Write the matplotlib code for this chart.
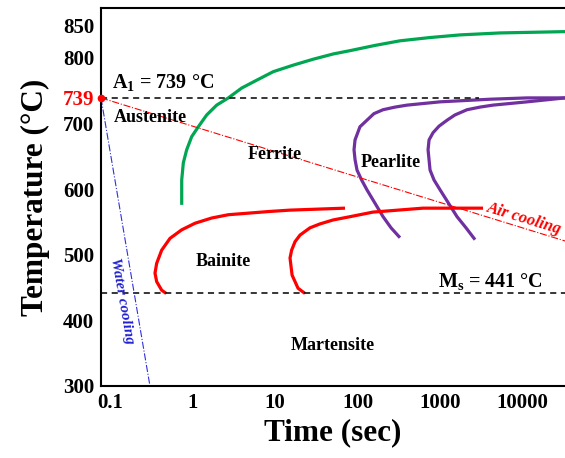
import matplotlib
matplotlib.use("Agg")
import matplotlib.pyplot as plt

plt.rcParams['font.family'] = ['Liberation Serif', 'DejaVu Serif']
plt.rcParams['font.weight'] = 'bold'
plt.rcParams['mathtext.default'] = 'regular'

# ---- data ----
ferrite_t = [0.740, 0.740, 0.774, 0.850, 0.978, 1.176, 1.486, 1.963, 2.72, 3.94, 6.0, 9.53,
             16.7, 29.1, 50.9, 81.1, 163, 327, 757, 1747, 5333, 32700]
ferrite_T = [576, 614, 640, 660, 680, 695, 713, 728, 739, 754, 766, 779,
             789, 798, 806, 811, 819, 826, 831, 835, 838, 840]

pearl1_t = [327, 255, 204, 130, 112, 98.6, 93.3, 90.7, 93.3, 107, 130, 158, 204, 285, 398, 1000, 4036, 11350, 32700]
pearl1_T = [526, 541, 558, 599, 614, 629, 645, 660, 675, 695, 705, 715, 721, 725, 728, 733, 737, 739, 739]

pearl2_t = [2655, 2066, 1607, 1000, 845, 757, 716, 736, 823, 973, 1216, 1514, 2124, 3055, 4385, 11350, 32700]
pearl2_T = [523, 541, 558, 599, 614, 629, 660, 675, 686, 696, 705, 713, 721, 725, 728, 733, 739]

bain1_t = [70.5, 15.2, 8.69, 4.33, 2.72, 1.71, 1.072, 0.740, 0.534, 0.423, 0.368, 0.351, 0.368, 0.423, 0.48]
bain1_T = [571, 568, 566, 563, 561, 556, 548, 538, 525, 507, 487, 472, 459, 446, 441]

bain2_t = [3320, 622, 154, 81, 50.5, 35.1, 26.5, 20.1, 17.5, 15.9, 15.2, 16.1, 19.0, 23.1]
bain2_T = [571, 571, 565, 558, 553, 547, 541, 530, 520, 507, 495, 469, 449, 441]

air_t = [0.0778, 32700]
air_T = [739, 521]
water_t = [0.0778, 0.305]
water_T = [739, 300]

A1 = 739
Ms = 441
x_ticks = [0.1, 1, 10, 100, 1000, 10000]
x_labels = ['0.1', '1', '10', '100', '1000', '10000']
y_ticks = [300, 400, 500, 600, 700, 739, 800, 850]
y_labels = ['300', '400', '500', '600', '700', '739', '800', '850']

# ---- figure ----
fig = plt.figure(figsize=(5.65, 4.58), dpi=100)
ax = fig.add_axes([101/565, 1-386/458, 1-101/565, (386-8)/458])
ax.set_xscale('log')
ax.set_xlim(0.0778, 32700)
ax.set_ylim(300, 876)

green = '#00a651'
red = '#ff0000'
purple = '#7030a0'
lw = 2.3

for t, T, c in [(ferrite_t, ferrite_T, green), (pearl1_t, pearl1_T, purple),
                (pearl2_t, pearl2_T, purple), (bain1_t, bain1_T, red),
                (bain2_t, bain2_T, red)]:
    ax.plot(t, T, color=c, lw=lw, solid_capstyle='butt', solid_joinstyle='round')

ax.plot([0.0778, 3000], [A1, A1], color='black', lw=1.1, ls=(0, (4, 3)))
ax.plot([0.0778, 32700], [Ms, Ms], color='black', lw=1.1, ls=(0, (4, 3)))

ax.plot(air_t, air_T, color=red, lw=0.8, ls='-.')
ax.plot(water_t, water_T, color='#3030e0', lw=0.8, ls='-.')
ax.plot([0.0778], [A1], 'o', color=red, ms=4.5, clip_on=False, zorder=5)

fs = 13
ax.text(0.438, 762, 'A$_1$ = 739 °C', fontsize=14.5, ha='center', va='center')
ax.text(0.305, 708.5, 'Austenite', fontsize=fs, ha='center', va='center')
ax.text(10, 652, 'Ferrite', fontsize=fs, ha='center', va='center')
ax.text(255, 640, 'Pearlite', fontsize=fs, ha='center', va='center')
ax.text(2.35, 489, 'Bainite', fontsize=fs, ha='center', va='center')
ax.text(4036, 458.5, 'M$_s$ = 441 °C', fontsize=14.5, ha='center', va='center')
ax.text(50.5, 361, 'Martensite', fontsize=fs, ha='center', va='center')
ax.text(10400, 555, 'Air cooling', fontsize=12, color=red, style='italic',
        ha='center', va='center', rotation=-17, rotation_mode='anchor')
ax.text(0.14, 430, 'Water cooling', fontsize=11, color='#2020d0', style='italic',
        ha='center', va='center', rotation=-80, rotation_mode='anchor')

ax.set_xticks(x_ticks)
ax.set_xticklabels(x_labels)
ax.xaxis.set_minor_locator(matplotlib.ticker.NullLocator())
ax.set_yticks(y_ticks)
ax.set_yticklabels(y_labels)
ax.tick_params(axis='both', length=0, labelsize=15)
ax.tick_params(axis='y', pad=5)
ax.tick_params(axis='x', pad=5)
for lab in ax.get_yticklabels():
    lab.set_fontweight('bold')
    if lab.get_text() == '739':
        lab.set_color(red)
for lab in ax.get_xticklabels():
    lab.set_fontweight('bold')

for s in ['left', 'top', 'bottom']:
    ax.spines[s].set_linewidth(1.5)
ax.spines['right'].set_visible(False)

ax.set_xlabel('Time (sec)', fontsize=22.5, fontweight='bold', labelpad=4)
ax.set_ylabel('Temperature (°C)', fontsize=22.5, fontweight='bold', labelpad=9)

fig.savefig('out.png', dpi=100)
